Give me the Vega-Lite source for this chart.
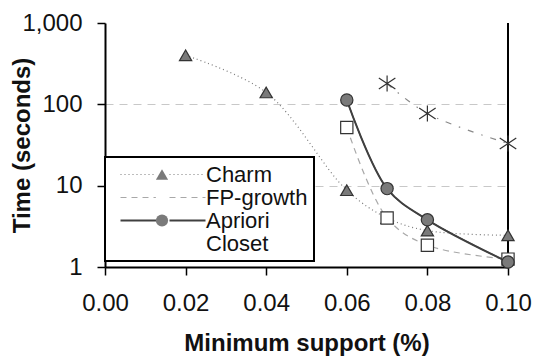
{
  "$schema": "https://vega.github.io/schema/vega-lite/v6.json",
  "width": 403,
  "height": 244,
  "autosize": "none",
  "padding": {"left": 105, "top": 23, "right": 25, "bottom": 93},
  "background": "white",
  "config": {
    "font": "Liberation Sans",
    "view": {"stroke": null},
    "axis": {
      "domainColor": "#000",
      "domainWidth": 2,
      "tickColor": "#000",
      "tickWidth": 1.5,
      "tickSize": 8,
      "labelFontSize": 24,
      "labelColor": "#111",
      "titleFontSize": 24,
      "titleFontWeight": "bold",
      "titleColor": "#111"
    },
    "legend": {"strokeWidth": 2}
  },
  "data": {
    "values": [
      {"series": "Charm", "support": 0.02, "time": 400},
      {"series": "Charm", "support": 0.04, "time": 140},
      {"series": "Charm", "support": 0.06, "time": 8.8},
      {"series": "Charm", "support": 0.07, "time": 4},
      {"series": "Charm", "support": 0.08, "time": 2.8},
      {"series": "Charm", "support": 0.10, "time": 2.45},
      {"series": "FP-growth", "support": 0.06, "time": 52},
      {"series": "FP-growth", "support": 0.07, "time": 4},
      {"series": "FP-growth", "support": 0.08, "time": 1.85},
      {"series": "FP-growth", "support": 0.10, "time": 1.25},
      {"series": "Apriori", "support": 0.06, "time": 113},
      {"series": "Apriori", "support": 0.07, "time": 9.2},
      {"series": "Apriori", "support": 0.08, "time": 3.8},
      {"series": "Apriori", "support": 0.10, "time": 1.15},
      {"series": "Closet", "support": 0.07, "time": 180},
      {"series": "Closet", "support": 0.08, "time": 77},
      {"series": "Closet", "support": 0.10, "time": 33}
    ]
  },
  "layer": [
    {
      "mark": {"type": "rule", "color": "#000", "strokeWidth": 2},
      "encoding": {"x": {"datum": 0.1, "type": "quantitative"}}
    },
    {
      "mark": {"type": "line", "interpolate": "catmull-rom", "strokeWidth": 1.2},
      "encoding": {
        "x": {
          "field": "support",
          "type": "quantitative",
          "scale": {"domain": [0, 0.1], "nice": false, "zero": false},
          "axis": {
            "title": "Minimum support (%)",
            "values": [0, 0.02, 0.04, 0.06, 0.08, 0.1],
            "format": ".2f",
            "grid": false,
            "labelPadding": 16,
            "labelFlush": false,
            "titleY": 83,
            "titleBaseline": "alphabetic"
          }
        },
        "y": {
          "field": "time",
          "type": "quantitative",
          "scale": {"type": "log", "domain": [1, 1000], "nice": false},
          "axis": {
            "title": "Time (seconds)",
            "values": [1, 10, 100, 1000],
            "format": ",",
            "labelPadding": 15,
            "labelFlush": false,
            "grid": true,
            "gridColor": "#c8c8c8",
            "gridDash": [8, 6],
            "gridWidth": 1,
            "gridOpacity": {"condition": {"test": "datum.value === 1000 || datum.value === 1", "value": 0}, "value": 1},
            "titleX": -83,
            "titleBaseline": "middle"
          }
        },
        "color": {
          "field": "series",
          "type": "nominal",
          "scale": {"domain": ["Charm", "FP-growth", "Apriori", "Closet"], "range": ["#7a7a7a", "#a8a8a8", "#404040", "#8a8a8a"]},
          "legend": null
        },
        "strokeDash": {
          "field": "series",
          "type": "nominal",
          "scale": {"range": [[1, 0], [1, 3], [6, 8, 1.5, 8], [6, 5]]},
          "legend": {
            "values": ["Charm", "FP-growth", "Apriori", "Closet"],
            "orient": "none",
            "legendX": 0,
            "legendY": 134,
            "title": null,
            "symbolType": "M-8.5,0L-1.3,0M1.3,0L8.5,0",
            "symbolSize": 100,
            "symbolStrokeWidth": 1.2,
            "symbolOffset": 41,
            "labelOffset": 32,
            "labelFontSize": 22,
            "labelColor": "#111",
            "padding": 6,
            "clipHeight": 23,
            "rowPadding": 0,
            "strokeColor": "#000",
            "fillColor": "white",
            "cornerRadius": 0,
            "encode": {
              "symbols": {
                "update": {
                  "stroke": {"signal": "scale('color', datum.value)"},
                  "fill": {"value": "transparent"},
                  "strokeWidth": {"signal": "datum.value === 'Apriori' ? 2 : 1.2"},
                  "opacity": {"signal": "datum.value === 'Closet' ? 0 : 1"}
                }
              }
            }
          }
        }
      }
    },
    {
      "transform": [{"filter": "datum.series === 'Apriori'"}],
      "mark": {"type": "line", "interpolate": "catmull-rom", "strokeWidth": 2, "color": "#404040"},
      "encoding": {
        "x": {"field": "support", "type": "quantitative"},
        "y": {"field": "time", "type": "quantitative"}
      }
    },
    {
      "mark": {"type": "point", "filled": true, "stroke": "#333", "strokeWidth": 1.2, "opacity": 1, "size": 150},
      "encoding": {
        "x": {"field": "support", "type": "quantitative"},
        "y": {"field": "time", "type": "quantitative"},
        "shape": {
          "field": "series",
          "type": "nominal",
          "sort": "descending",
          "scale": {
            "range": ["square", "M0,-1.3L0,1.3M-1.35,-0.9L1.35,0.9M-1.35,0.9L1.35,-0.9", "triangle-up", "circle"]
          },
          "legend": {
            "values": ["Charm", "FP-growth", "Apriori", "Closet"],
            "orient": "none",
            "legendX": 0,
            "legendY": 134,
            "title": null,
            "symbolSize": 150,
            "symbolStrokeColor": "#333",
            "symbolStrokeWidth": 1.2,
            "symbolOffset": 40,
            "labelOffset": 32,
            "labelFontSize": 22,
            "labelOpacity": 0,
            "padding": 6,
            "clipHeight": 23,
            "rowPadding": 0,
            "strokeColor": null,
            "fillColor": null,
            "cornerRadius": 0,
            "encode": {
              "symbols": {
                "update": {
                  "shape": {"signal": "datum.value === 'FP-growth' ? 'M-0.9,-0.9L0.9,-0.9L0.9,0.9L-0.9,0.9ZM-0.7,-0.7L-0.7,0.7L0.7,0.7L0.7,-0.7Z' : datum.value === 'Closet' ? 'M-0.1,-1L0.1,-1L0.1,1L-0.1,1ZM-0.9443,-0.7531L1.0557,0.5869L0.9443,0.7531L-1.0557,-0.5869ZM-1.0557,0.5869L0.9443,-0.7531L1.0557,-0.5869L-0.9443,0.7531Z' : scale('shape', datum.value)"},
                  "fill": {"signal": "datum.value === 'FP-growth' || datum.value === 'Closet' ? '#333333' : scale('fill', datum.value)"},
                  "stroke": {"signal": "'#333333'"},
                  "strokeWidth": {"value": 1.2},
                  "strokeOpacity": {"value": 1},
                  "fillOpacity": {"value": 1},
                  "opacity": {"value": 1}
                }
              }
            }
          }
        },
        "fill": {
          "field": "series",
          "type": "nominal",
          "sort": "descending",
          "scale": {"range": ["#ffffff", "transparent", "#7a7a7a", "#7a7a7a"]},
          "legend": null
        }
      }
    }
  ]
}
